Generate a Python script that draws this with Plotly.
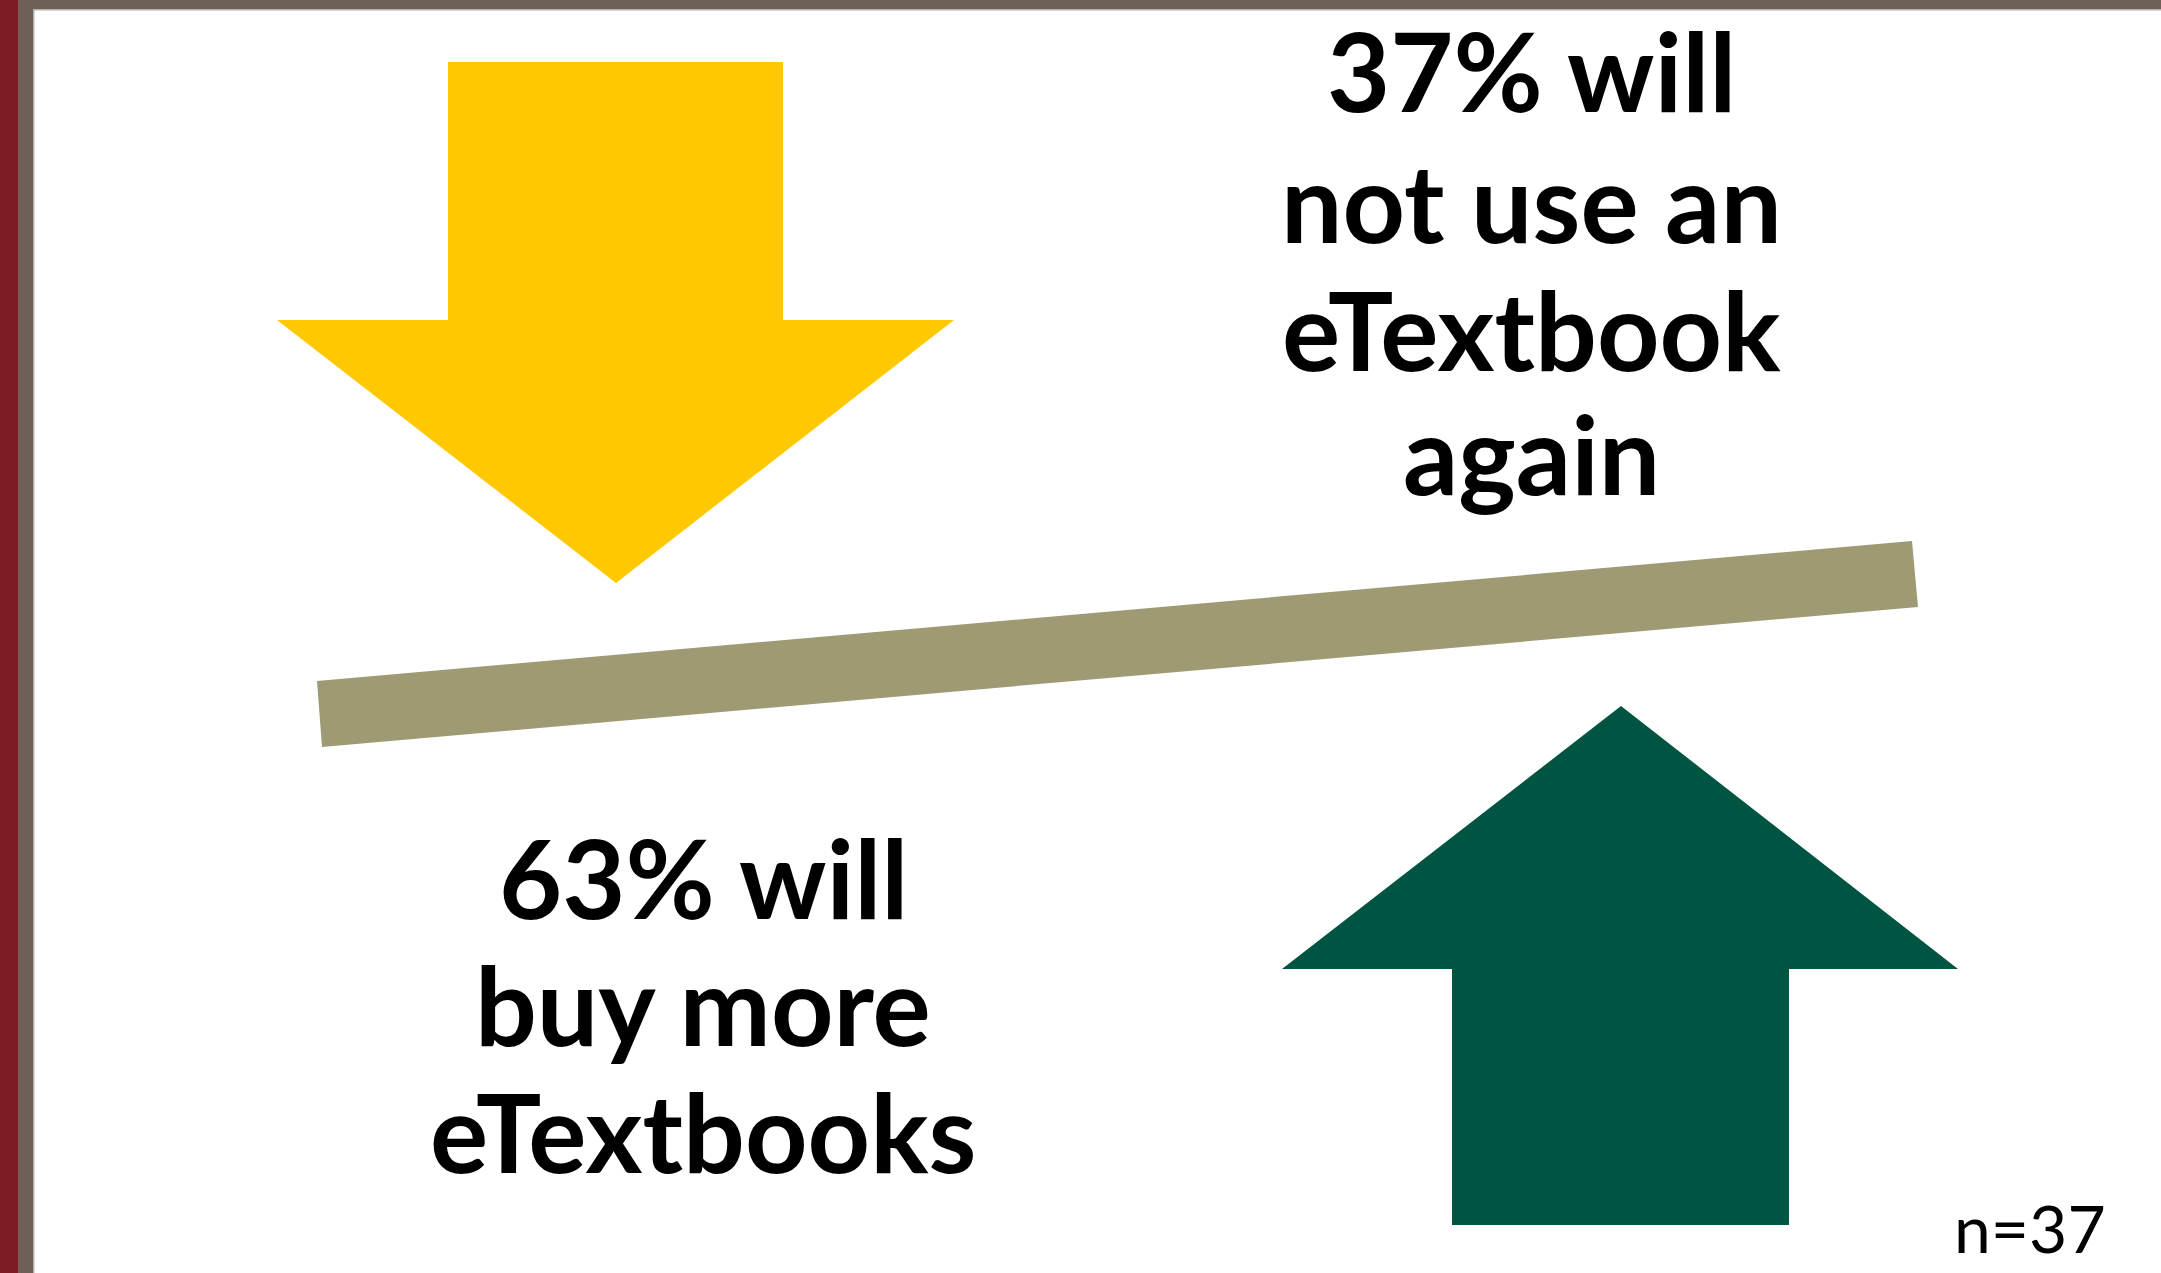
import plotly.graph_objects as go

# ---- data ----
pct_not_again = 37
pct_buy_more = 63
n_respondents = 37

top_lines = [f"{pct_not_again}% will", "not use an", "eTextbook", "again"]
bottom_lines = [f"{pct_buy_more}% will", "buy more", "eTextbooks"]

# ---- geometry (page pixel coordinates, y downward) ----
W, H = 2161, 1273
down_arrow_x = [448, 783, 783, 954, 616, 277, 448, 448]
down_arrow_y = [62, 62, 320, 320, 583, 320, 320, 62]
up_arrow_x = [1452, 1789, 1789, 1958, 1621, 1282, 1452, 1452]
up_arrow_y = [1225, 1225, 969, 969, 706, 969, 969, 1225]
beam_x = [317, 1912, 1918, 322, 317]
beam_y = [681, 541, 607, 747, 681]

YELLOW = "#FFC800"
GREEN = "#005542"
BEAM = "#9E9A74"
GREY = "#6E6056"
RED = "#7D1C24"

fig = go.Figure()

def poly(xs, ys, color):
    fig.add_trace(go.Scatter(x=xs, y=ys, mode="lines", fill="toself",
                             fillcolor=color, line=dict(color=color, width=0),
                             hoverinfo="skip", showlegend=False))

poly(down_arrow_x, down_arrow_y, YELLOW)
poly(up_arrow_x, up_arrow_y, GREEN)
poly(beam_x, beam_y, BEAM)

# frame stripes
shapes = [
    dict(type="rect", xref="x", yref="y", x0=0, x1=18, y0=0, y1=H, fillcolor=RED, line=dict(width=0), layer="above"),
    dict(type="rect", xref="x", yref="y", x0=18, x1=33, y0=0, y1=H, fillcolor=GREY, line=dict(width=0), layer="above"),
    dict(type="rect", xref="x", yref="y", x0=18, x1=W, y0=0, y1=9, fillcolor=GREY, line=dict(width=0), layer="above"),
    dict(type="rect", xref="x", yref="y", x0=33, x1=34.5, y0=9, y1=H, fillcolor="#B8B0AA", line=dict(width=0), layer="above"),
    dict(type="rect", xref="x", yref="y", x0=33, x1=W, y0=9, y1=10.5, fillcolor="#B8B0AA", line=dict(width=0), layer="above"),
]

FONT = "Lato, 'Open Sans', sans-serif"
BIG = 109
OFF = 0.4 * BIG  # baseline sits ~0.4em below the middle of the text box
annotations = []
top_baselines = [113, 244, 372, 496]
for txt, yy in zip(top_lines, top_baselines):
    annotations.append(dict(x=1531, y=yy - OFF, xref="x", yref="y", text=f"<b>{txt}</b>",
                            showarrow=False, xanchor="center", yanchor="middle",
                            font=dict(family=FONT, size=BIG, color="#000000")))
bottom_baselines = [920, 1047, 1174]
for txt, yy in zip(bottom_lines, bottom_baselines):
    annotations.append(dict(x=703, y=yy - OFF, xref="x", yref="y", text=f"<b>{txt}</b>",
                            showarrow=False, xanchor="center", yanchor="middle",
                            font=dict(family=FONT, size=BIG, color="#000000")))
annotations.append(dict(x=2030, y=1254 - 0.4 * 66, xref="x", yref="y", text=f"n={n_respondents}",
                        showarrow=False, xanchor="center", yanchor="middle",
                        font=dict(family=FONT, size=66, color="#000000")))

fig.update_layout(
    width=W, height=H,
    margin=dict(l=0, r=0, t=0, b=0),
    paper_bgcolor="white", plot_bgcolor="white",
    xaxis=dict(range=[0, W], visible=False, fixedrange=True),
    yaxis=dict(range=[H, 0], visible=False, fixedrange=True),
    shapes=shapes, annotations=annotations,
)

fig.write_html("out.html", config={"displayModeBar": False},
               post_script="document.body.style.margin='0';document.body.style.overflow='hidden';")
